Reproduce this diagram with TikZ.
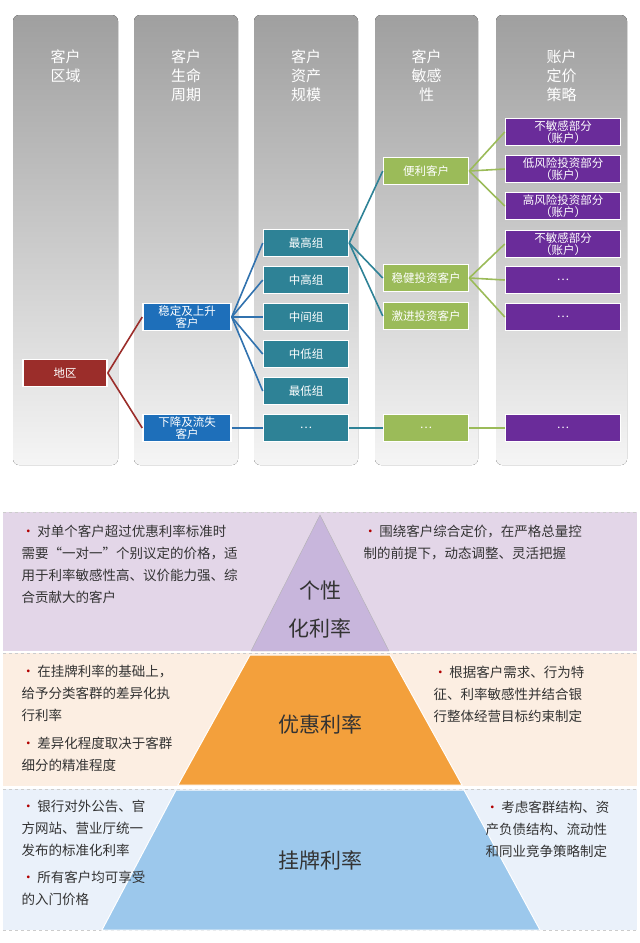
\documentclass[tikz,border=0pt]{standalone}
\usepackage{fontspec}
\setmainfont{Noto Sans CJK SC}
\usetikzlibrary{positioning}
\definecolor{regred}{HTML}{9B2D2A}
\definecolor{lifeblue}{HTML}{1E6FBA}
\definecolor{assetteal}{HTML}{2E8296}
\definecolor{sensgreen}{HTML}{9BBB59}
\definecolor{pricepurple}{HTML}{6A2C9A}
\definecolor{bandpurple}{HTML}{E3D6E8}
\definecolor{bandpeach}{HTML}{FCEEE2}
\definecolor{bandblue}{HTML}{EAF1FA}
\definecolor{toppurple}{HTML}{C8B6DC}
\definecolor{midorange}{HTML}{F3A03C}
\definecolor{lowblue}{HTML}{9CC8EC}
\tikzset{
	column/.style={draw=none,rounded corners=6pt,top color=gray!75,bottom color=gray!8},
	head/.style={text=white,font=\fontsize{15}{19}\selectfont,align=center},
	box/.style={draw=white,line width=1.5pt,text=white,font=\fontsize{11.5}{12.5}\selectfont,
		align=center,inner sep=1pt,minimum height=27pt},
	regbox/.style={box,fill=regred,minimum width=84pt},
	lifebox/.style={box,fill=lifeblue,minimum width=88pt},
	assetbox/.style={box,fill=assetteal,minimum width=85pt},
	sensbox/.style={box,fill=sensgreen,minimum width=85pt},
	pricebox/.style={box,fill=pricepurple,minimum width=115pt},
	link/.style={draw,line width=1.6pt},
	note/.style={anchor=north west,align=left,font=\fontsize{13.5}{22}\selectfont,text=black!80},
	tier/.style={font=\fontsize{21}{38}\selectfont,align=center,text=black!80}
}
\newcommand{\dotb}{{\color{red!70!black}\textbullet}\,}
\begin{document}
\begin{tikzpicture}[x=1pt,y=-1pt]
\useasboundingbox (0,0) rectangle (640,943);

% columns
\foreach \xa/\xb/\txt in {13/118/{客户\\区域},134/238/{客户\\生命\\周期},254/358/{客户\\资产\\规模},375/478/{客户\\敏感\\性},496/627/{账户\\定价\\策略}}{
	\fill[column] (\xa,15) rectangle (\xb,465);
	\node[head,anchor=north] at ({(\xa+\xb)/2},46) {\txt};
}

% tree nodes
\node[regbox] (region) at (65,373) {地区};
\node[lifebox] (rise) at (187,317) {稳定及上升\\客户};
\node[lifebox] (fall) at (187,428) {下降及流失\\客户};
\node[assetbox] (top) at (306,243) {最高组};
\node[assetbox] (uhigh) at (306,280) {中高组};
\node[assetbox] (mid) at (306,317) {中间组};
\node[assetbox] (ulow) at (306,354) {中低组};
\node[assetbox] (low) at (306,391) {最低组};
\node[assetbox] (adots) at (306,428) {…};
\node[sensbox] (easy) at (426,171) {便利客户};
\node[sensbox] (steady) at (426,278) {稳健投资客户};
\node[sensbox] (bold) at (426,316) {激进投资客户};
\node[sensbox] (sdots) at (426,428) {…};
\node[pricebox] (p1) at (563,132) {不敏感部分\\（账户）};
\node[pricebox] (p2) at (563,169) {低风险投资部分\\（账户）};
\node[pricebox] (p3) at (563,206) {高风险投资部分\\（账户）};
\node[pricebox] (p4) at (563,244) {不敏感部分\\（账户）};
\node[pricebox] (p5) at (563,280) {…};
\node[pricebox] (p6) at (563,317) {…};
\node[pricebox] (p7) at (563,428) {…};

% connectors
\draw[link,regred] (region.east) -- (rise.west);
\draw[link,regred] (region.east) -- (fall.west);
\foreach \n in {top,uhigh,mid,ulow,low}
	\draw[link,lifeblue!80!gray] (rise.east) -- (\n.west);
\draw[link,lifeblue!80!gray] (fall.east) -- (adots.west);
\foreach \n in {easy,steady,bold}
	\draw[link,assetteal] (top.east) -- (\n.west);
\draw[link,assetteal] (adots.east) -- (sdots.west);
\foreach \n in {p1,p2,p3}
	\draw[link,sensgreen] (easy.east) -- (\n.west);
\foreach \n in {p4,p5,p6}
	\draw[link,sensgreen] (steady.east) -- (\n.west);
\draw[link,sensgreen] (sdots.east) -- (p7.west);

% bands
\fill[bandpurple] (3,512) rectangle (637,651);
\fill[bandpeach] (3,653) rectangle (637,786);
\fill[bandblue] (3,789) rectangle (637,930);
\foreach \y in {512,653,789,930}
	\draw[gray!40,dashed] (3,\y) -- (637,\y);

% pyramid
\fill[toppurple,draw=gray!60] (320,515) -- (389,651) -- (251,651) -- cycle;
\fill[midorange,draw=white,line width=1pt] (250,655) -- (390,655) -- (462,785) -- (178,785) -- cycle;
\fill[lowblue,draw=white,line width=1pt] (176,790) -- (464,790) -- (540,930) -- (102,930) -- cycle;
\node[tier] (t1) at (320,610) {个性\\化利率};
\node[tier] (t2) at (320,724) {优惠利率};
\node[tier] (t3) at (320,860) {挂牌利率};

% notes
\node[note] (n1) at (18,521) {\dotb 对单个客户超过优惠利率标准时\\需要“一对一”个别议定的价格，适\\用于利率敏感性高、议价能力强、综\\合贡献大的客户};
\node[note] (n2) at (360,521) {\dotb 围绕客户综合定价，在严格总量控\\制的前提下，动态调整、灵活把握};
\node[note] (n3) at (18,662) {\dotb 在挂牌利率的基础上，\\给予分类客群的差异化执\\行利率};
\node[note] (n4) at (18,733) {\dotb 差异化程度取决于客群\\细分的精准程度};
\node[note] (n5) at (430,662) {\dotb 根据客户需求、行为特\\征、利率敏感性并结合银\\行整体经营目标约束制定};
\node[note] (n6) at (18,797) {\dotb 银行对外公告、官\\方网站、营业厅统一\\发布的标准化利率};
\node[note] (n7) at (18,867) {\dotb 所有客户均可享受\\的入门价格};
\node[note] (n8) at (482,797) {\dotb 考虑客群结构、资\\产负债结构、流动性\\和同业竞争策略制定};
\end{tikzpicture}
\end{document}
